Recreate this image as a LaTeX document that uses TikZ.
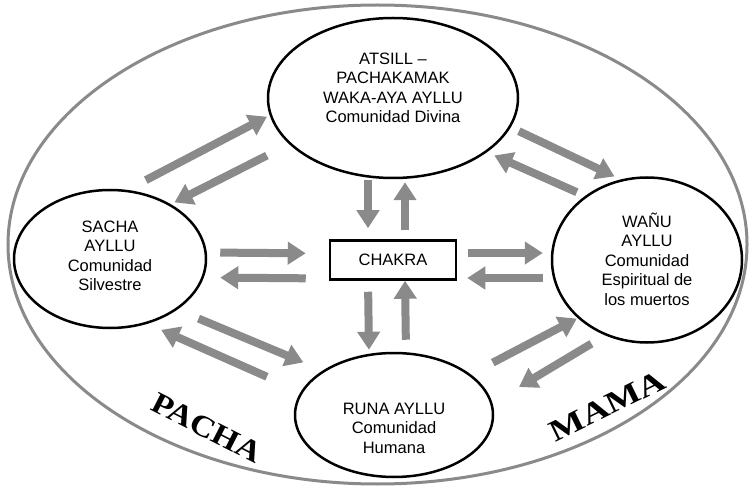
\documentclass[tikz,border=0pt]{standalone}
\usepackage{fontspec}
\setmainfont{Liberation Sans}
\newfontfamily\pachafont{Liberation Serif}
\usetikzlibrary{arrows.meta,shapes.geometric}
\definecolor{flecha}{RGB}{138,138,138}

\begin{document}
\begin{tikzpicture}[x=1pt,y=-1pt,font=\fontsize{16.5}{19.5}\selectfont]
  \tikzstyle{mundo}=[ellipse,draw=flecha,line width=3pt,inner sep=0pt]
  \tikzstyle{ayllu}=[ellipse,draw,line width=2.5pt,inner sep=0pt]
  \tikzstyle{caja}=[rectangle,draw,line width=2.5pt,inner sep=0pt]
  \tikzstyle{texto}=[align=center,inner sep=0pt]
  \tikzstyle{flujo}=[draw=flecha,line width=8pt,-{Triangle[width=22pt,length=18pt]}]
  \tikzstyle{nombre}=[font=\pachafont\bfseries\fontsize{30}{30}\selectfont,inner sep=0pt]

  \useasboundingbox (0,0) rectangle (750,489);

  \node[mundo,minimum width=739pt,minimum height=479pt] (pachamama) at (377.5,244.5) {};

  \node[ayllu,minimum width=250pt,minimum height=160pt] (atsill) at (393,98) {};
  \node[ayllu,minimum width=192pt,minimum height=138pt] (sacha) at (110,259) {};
  \node[ayllu,minimum width=190pt,minimum height=165pt] (wanu) at (647,260) {};
  \node[ayllu,minimum width=198pt,minimum height=124pt] (runa) at (394,415) {};
  \node[caja,minimum width=126pt,minimum height=39pt] (chakra) at (393,260) {CHAKRA};

  \node[texto] (atsill-txt) at ([yshift=10pt]atsill) {ATSILL –\\PACHAKAMAK\\WAKA-AYA AYLLU\\Comunidad Divina};
  \node[texto] (sacha-txt) at ([yshift=3pt]sacha) {SACHA\\AYLLU\\Comunidad\\Silvestre};
  \node[texto] (wanu-txt) at ([yshift=1pt]wanu) {WAÑU\\AYLLU\\Comunidad\\Espiritual de\\los muertos};
  \node[texto] (runa-txt) at ([yshift=-13pt]runa) {RUNA AYLLU\\Comunidad\\Humana};

  % diagonales
  \draw[flujo,shorten <=21pt,shorten >=3pt] (sacha.76) -- (atsill.188);
  \draw[flujo,shorten <=25pt,shorten >=4pt] (atsill.204) -- (sacha.42);
  \draw[flujo,shorten <=9pt,shorten >=7pt] (atsill.346) -- (wanu.108);
  \draw[flujo,shorten <=9pt,shorten >=8pt] (wanu.134) -- (atsill.330);
  \draw[flujo,shorten <=23pt,shorten >=21pt] (sacha.323) -- (runa.148);
  \draw[flujo,shorten <=37pt,shorten >=15pt] (runa.166) -- (sacha.300);
  \draw[flujo,shorten <=25pt,shorten >=1pt] (runa.28) -- (wanu.220);
  \draw[flujo,shorten <=16pt,shorten >=31pt] (wanu.241) -- (runa.7);

  % hacia y desde el chakra
  \draw[flujo,shorten <=1pt,shorten >=11pt] ([xshift=-25pt]atsill.south) -- ([xshift=-25pt]chakra.north);
  \draw[flujo,shorten <=9pt,shorten >=3pt] ([xshift=12pt]chakra.north) -- ([xshift=12pt]atsill.south);
  \draw[flujo,shorten <=11pt,shorten >=2pt] ([xshift=-25pt]chakra.south) -- ([xshift=-25pt]runa.north);
  \draw[flujo,shorten <=12pt,shorten >=0pt] ([xshift=12pt]runa.north) -- ([xshift=12pt]chakra.south);
  \draw[flujo,shorten <=13pt,shorten >=23pt] ([yshift=6.5pt]sacha.east) -- ([yshift=6.5pt]chakra.west);
  \draw[flujo,shorten <=23pt,shorten >=13pt] ([yshift=-18.5pt]chakra.west) -- ([yshift=-18.5pt]sacha.east);
  \draw[flujo,shorten <=11pt,shorten >=8pt] ([yshift=7pt]chakra.east) -- ([yshift=7pt]wanu.west);
  \draw[flujo,shorten <=8pt,shorten >=10pt] ([yshift=-18pt]wanu.west) -- ([yshift=-18pt]chakra.east);

  \node[nombre,rotate=-27] (pacha) at (207,428) {\scalebox{1.15}[1]{PACHA}};
  \node[nombre,rotate=26] (mama) at (607,406) {\scalebox{1.25}[1]{MAMA}};

\end{tikzpicture}
\end{document}
